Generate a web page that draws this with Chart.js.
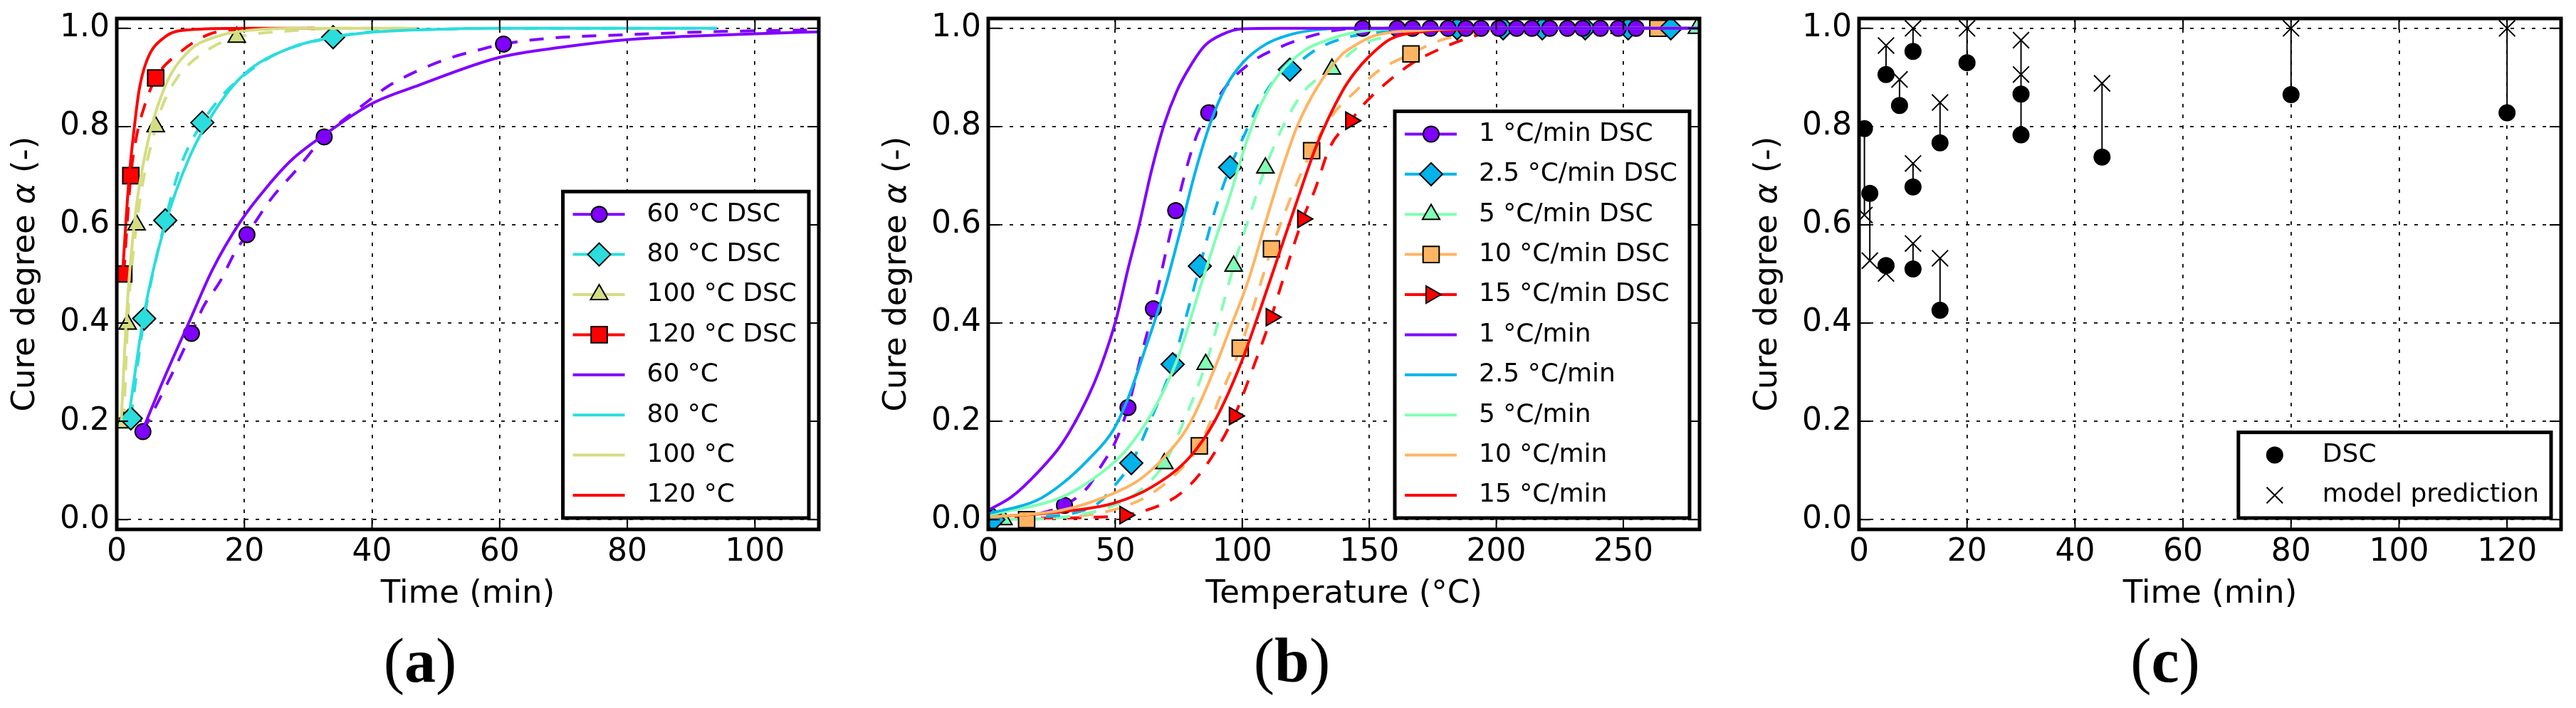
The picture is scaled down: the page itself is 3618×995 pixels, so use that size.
<!DOCTYPE html>
<html>
<head>
<meta charset="utf-8">
<script src="https://cdn.jsdelivr.net/npm/chart.js@4.4.1/dist/chart.umd.min.js"></script>
<style>
  html, body { margin: 0; padding: 0; background: #fff; }
  body { width: 3618px; height: 995px; position: relative; overflow: hidden; }
  canvas { position: absolute; top: 0; }
</style>
</head>
<body>
<canvas id="ca" width="1200" height="995" style="left:0px"></canvas>
<canvas id="cb" width="1220" height="995" style="left:1200px"></canvas>
<canvas id="cc" width="1198" height="995" style="left:2420px"></canvas>
<script>
// ---------------- tick labels / titles ----------------
const yTicks = [0, 0.2, 0.4, 0.6, 0.8, 1.0];
const yTickLabels = ['0.0', '0.2', '0.4', '0.6', '0.8', '1.0'];
const aXTicks = [0, 20, 40, 60, 80, 100];
const aXTickLabels = ['0', '20', '40', '60', '80', '100'];
const bXTicks = [0, 50, 100, 150, 200, 250];
const bXTickLabels = ['0', '50', '100', '150', '200', '250'];
const cXTicks = [0, 20, 40, 60, 80, 100, 120];
const cXTickLabels = ['0', '20', '40', '60', '80', '100', '120'];
const yTitleParts = ['Cure degree ', 'α', ' (-)'];
const xTitleA = 'Time (min)';
const xTitleB = 'Temperature (°C)';
const xTitleC = 'Time (min)';
const captionA = 'a', captionB = 'b', captionC = 'c';
const legendA = ['60 °C DSC', '80 °C DSC', '100 °C DSC', '120 °C DSC', '60 °C', '80 °C', '100 °C', '120 °C'];
const legendB = ['1 °C/min DSC', '2.5 °C/min DSC', '5 °C/min DSC', '10 °C/min DSC', '15 °C/min DSC',
                 '1 °C/min', '2.5 °C/min', '5 °C/min', '10 °C/min', '15 °C/min'];
const legendC = ['DSC', 'model prediction'];

// ---------------- panel (a): isothermal, time (min) ----------------
const aDsc60T = [4.1, 11.7, 20.4, 32.5, 60.6];
const aDsc60A = [0.179, 0.379, 0.58, 0.779, 0.968];
const aDsc80T = [2.2, 4.3, 7.6, 13.4, 33.9];
const aDsc80A = [0.206, 0.409, 0.609, 0.808, 0.982];
const aDsc100T = [1.1, 1.7, 3.1, 6.1, 18.8];
const aDsc100A = [0.197, 0.398, 0.6, 0.8, 0.982];
const aDsc120T = [1.1, 2.2, 6.1];
const aDsc120A = [0.5, 0.7, 0.899];

const aDash60T = [4.1, 7.5, 11.7, 13.6, 16.2, 18.6, 20.4, 24.2, 28.3, 32.5, 39.5, 42.5, 47.4, 52.3, 57, 60.6, 67, 80, 93, 110];
const aDash60A = [0.179, 0.266, 0.379, 0.434, 0.485, 0.546, 0.58, 0.653, 0.714, 0.779, 0.853, 0.882, 0.915, 0.94, 0.957, 0.968, 0.979, 0.987, 0.993, 0.997];
const aDash80T = [2.2, 4.3, 7.6, 10, 13.4, 17, 20, 25, 33.9, 40, 50, 60, 94];
const aDash80A = [0.206, 0.409, 0.609, 0.72, 0.808, 0.87, 0.905, 0.948, 0.982, 0.993, 0.998, 1.0, 1.0];
const aDash100T = [1.1, 1.7, 3.1, 6.1, 7.5, 9.5, 11.4, 15.4, 18.8, 27.4, 35, 47];
const aDash100A = [0.197, 0.398, 0.6, 0.8, 0.853, 0.9, 0.928, 0.965, 0.982, 0.995, 1.0, 1.0];
const aDash120T = [1.1, 2.2, 3.1, 4.3, 6.1, 9.8, 14.5, 20, 31];
const aDash120A = [0.5, 0.7, 0.78, 0.84, 0.899, 0.95, 0.988, 0.998, 1.0];

const aMod60T = [4.3, 7.5, 11.4, 15, 19.4, 23.4, 27.4, 32.5, 40, 47.3, 60, 70, 80, 90, 100, 110];
const aMod60A = [0.19, 0.29, 0.404, 0.509, 0.607, 0.675, 0.732, 0.783, 0.847, 0.884, 0.941, 0.962, 0.977, 0.984, 0.989, 0.993];
const aMod80T = [1.9, 4.3, 7.5, 11.4, 15.4, 20, 27.4, 33.9, 40, 50, 60, 94];
const aMod80A = [0.211, 0.42, 0.597, 0.738, 0.833, 0.907, 0.961, 0.982, 0.992, 0.998, 1.0, 1.0];
const aMod100T = [0.7, 1.5, 2.7, 4.7, 7.5, 11.4, 15.4, 20, 30, 47];
const aMod100A = [0.198, 0.407, 0.597, 0.759, 0.88, 0.955, 0.982, 0.995, 1.0, 1.0];
const aMod120T = [0.9, 1.9, 2.7, 3.5, 4.7, 7.5, 11.4, 20, 31];
const aMod120A = [0.499, 0.691, 0.793, 0.874, 0.934, 0.982, 0.997, 1.0, 1.0];

// ---------------- panel (b): dynamic, temperature (°C) ----------------
const bDsc1T = [30, 55, 65, 73.8, 86.8, 147.4, 161, 167, 174, 181, 188, 194, 201, 208, 214, 221, 228, 234, 241, 248, 255];
const bDsc1A = [0.029, 0.228, 0.429, 0.629, 0.828, 1, 1, 1, 1, 1, 1, 1, 1, 1, 1, 1, 1, 1, 1, 1, 1];
const bDsc25T = [2, 56.3, 72.6, 83.3, 95.2, 118.7, 184.6, 202.7, 218.1, 235, 251.9, 268.7];
const bDsc25A = [0, 0.115, 0.316, 0.516, 0.717, 0.916, 1, 1, 1, 1, 1, 1];
const bDsc5T = [6, 69.3, 85.6, 96.6, 109.1, 135.3, 214.9, 248.6, 279];
const bDsc5A = [0, 0.114, 0.316, 0.516, 0.716, 0.917, 1, 1, 1];
const bDsc10T = [15.1, 83.1, 99.2, 111.5, 127.3, 166.4, 263.6];
const bDsc10A = [0, 0.15, 0.349, 0.551, 0.751, 0.948, 1];
const bDsc15T = [53.8, 96.9, 111.4, 123.8, 142.7, 204.6];
const bDsc15A = [0.009, 0.211, 0.412, 0.612, 0.812, 1];

const bDash1T = [20, 30, 39.2, 44.2, 50.2, 55, 60, 65, 69.3, 73.8, 78, 82.3, 86.8, 94.4, 104.4, 114.5, 127.5, 139.5, 150, 260];
const bDash1A = [0.012, 0.029, 0.066, 0.107, 0.16, 0.228, 0.33, 0.429, 0.53, 0.629, 0.715, 0.785, 0.828, 0.887, 0.934, 0.961, 0.985, 0.998, 1, 1];
const bDash25T = [2, 20, 35, 43.2, 49.2, 56.3, 64.5, 72.6, 78, 83.3, 89, 95.2, 101, 107, 112, 118.7, 129.5, 141.5, 154.5, 170, 270];
const bDash25A = [0, 0.005, 0.015, 0.033, 0.066, 0.115, 0.21, 0.316, 0.415, 0.516, 0.625, 0.717, 0.785, 0.85, 0.89, 0.916, 0.958, 0.982, 0.992, 1, 1];
const bDash5T = [6, 30, 50, 60, 69.3, 77, 85.6, 91, 96.6, 103, 109.1, 116, 124.5, 135.3, 147.5, 160, 175, 190, 280];
const bDash5A = [0, 0.005, 0.03, 0.06, 0.114, 0.2, 0.316, 0.41, 0.516, 0.62, 0.716, 0.8, 0.873, 0.917, 0.968, 0.985, 0.996, 1, 1];
const bDash10T = [15.1, 40, 53.3, 64.3, 75.3, 83.1, 92.3, 99.2, 105.4, 111.5, 119.5, 127.3, 135, 144.6, 154, 166.4, 176.5, 189.5, 210, 280];
const bDash10A = [0, 0.01, 0.026, 0.053, 0.1, 0.15, 0.263, 0.349, 0.45, 0.551, 0.66, 0.751, 0.82, 0.872, 0.915, 0.948, 0.973, 0.99, 1, 1];
const bDash15T = [0, 27, 42.2, 53.8, 69.3, 77.3, 86.3, 96.9, 103.4, 111.4, 115.5, 123.8, 128.5, 134.5, 142.7, 147.4, 156.3, 166.6, 177.4, 189.5, 205, 280];
const bDash15A = [0.003, 0.003, 0.005, 0.009, 0.033, 0.06, 0.114, 0.211, 0.297, 0.412, 0.48, 0.612, 0.67, 0.758, 0.812, 0.843, 0.887, 0.928, 0.957, 0.981, 1, 1];

const bMod1T = [0, 9.1, 19.1, 29.1, 39.2, 44.2, 50.2, 55.2, 59.2, 64.3, 69.3, 74.3, 79.3, 85.3, 92.3, 100, 115, 280];
const bMod1A = [0.019, 0.046, 0.094, 0.155, 0.249, 0.31, 0.405, 0.514, 0.595, 0.711, 0.805, 0.873, 0.921, 0.965, 0.988, 0.999, 1, 1];
const bMod25T = [0, 19.1, 29.1, 39.2, 49.2, 55.2, 61.2, 69.3, 75.3, 81.3, 87.3, 93.4, 100.4, 109.4, 119.4, 129.5, 140, 280];
const bMod25A = [0.012, 0.039, 0.073, 0.121, 0.182, 0.249, 0.338, 0.466, 0.582, 0.704, 0.805, 0.88, 0.931, 0.968, 0.988, 0.997, 1, 1];
const bMod5T = [0, 29.1, 44.2, 54.2, 64.3, 74.3, 84.3, 89.3, 95.4, 101.4, 107.4, 114.5, 124.5, 134.5, 144.6, 154.6, 170, 280];
const bMod5A = [0.009, 0.046, 0.094, 0.141, 0.216, 0.324, 0.487, 0.568, 0.663, 0.765, 0.846, 0.907, 0.955, 0.978, 0.992, 0.998, 1, 1];
const bMod10T = [0, 29, 49.2, 59.2, 69.3, 79.3, 89.3, 95.4, 102.4, 109.4, 115.5, 121.5, 129.5, 139.5, 144.3, 152, 170.8, 190, 280];
const bMod10A = [0.005, 0.019, 0.053, 0.08, 0.127, 0.195, 0.31, 0.392, 0.487, 0.609, 0.711, 0.799, 0.88, 0.948, 0.965, 0.985, 0.996, 1, 1];
const bMod15T = [0, 29, 49.2, 64.3, 79.3, 89.3, 99.4, 107.4, 114.5, 122.5, 129.5, 139.5, 144.3, 149.6, 158.3, 172.3, 186.4, 200, 280];
const bMod15A = [0.005, 0.016, 0.033, 0.066, 0.127, 0.202, 0.317, 0.433, 0.541, 0.663, 0.765, 0.873, 0.91, 0.941, 0.978, 0.994, 0.998, 1, 1];

// ---------------- panel (c): validation, time (min) ----------------
const cT     = [1, 2, 5, 5, 7.5, 10, 10, 10, 15, 15, 20, 30, 30, 45, 80, 120];
const cDsc   = [0.796, 0.664, 0.906, 0.517, 0.843, 0.953, 0.677, 0.51, 0.767, 0.426, 0.93, 0.866, 0.783, 0.738, 0.865, 0.828];
const cModel = [0.62, 0.527, 0.965, 0.501, 0.896, 1.0, 0.725, 0.562, 0.849, 0.532, 1.0, 0.976, 0.906, 0.888, 1.0, 1.0];

// ---------------- styling ----------------
const PURPLE = '#8000ff', CYAN = '#2bdddd', KHAKI = '#d4dd80', RED = '#ff0000';
const BLUE = '#00b4eb', MINT = '#80ffb4', ORANGE = '#ffb462';
const FONT = "'DejaVu Sans', 'Bitstream Vera Sans', sans-serif";
Chart.defaults.font.family = FONT;
Chart.defaults.color = '#000';

function pts(xs, ys) { return xs.map((x, i) => ({ x: x, y: ys[i] })); }
function lineDs(xs, ys, color, dashed, order) {
  return { data: pts(xs, ys), showLine: true, borderColor: color, borderWidth: 4,
           borderDash: dashed ? [20, 17] : [], pointRadius: 0, pointHoverRadius: 0,
           cubicInterpolationMode: 'monotone', fill: false, order: order, clip: 0 };
}
function markerDs(xs, ys, color, style, radius, rotation, order) {
  return { data: pts(xs, ys), showLine: false, pointStyle: style, pointRadius: radius,
           pointHoverRadius: radius, pointRotation: rotation || 0,
           pointBackgroundColor: color, pointBorderColor: '#000', pointBorderWidth: 2,
           order: order, clip: 0 };
}

const decoPlugin = {
  id: 'deco',
  afterDatasetsDraw(chart, args, o) {
    const ctx = chart.ctx, a = chart.chartArea, xs = chart.scales.x, ys = chart.scales.y;
    ctx.save();
    ctx.strokeStyle = '#000';
    ctx.lineWidth = 2;
    ctx.setLineDash([]);
    ctx.beginPath();
    const tl = 16;
    xs.ticks.forEach(t => {
      const px = xs.getPixelForValue(t.value);
      ctx.moveTo(px, a.bottom); ctx.lineTo(px, a.bottom - tl);
      ctx.moveTo(px, a.top); ctx.lineTo(px, a.top + tl);
    });
    ys.ticks.forEach(t => {
      const py = ys.getPixelForValue(t.value);
      ctx.moveTo(a.left, py); ctx.lineTo(a.left + tl, py);
      ctx.moveTo(a.right, py); ctx.lineTo(a.right - tl, py);
    });
    ctx.stroke();
    ctx.lineWidth = 5;
    ctx.strokeRect(a.left, a.top, a.right - a.left, a.bottom - a.top);
    ctx.restore();
  },
  afterDraw(chart, args, o) {
    const ctx = chart.ctx, a = chart.chartArea;
    ctx.save();
    ctx.fillStyle = '#000';
    // y title
    ctx.save();
    ctx.translate(a.left - 128, (a.top + a.bottom) / 2);
    ctx.rotate(-Math.PI / 2);
    const fonts = ['45px ' + FONT, 'italic 45px ' + FONT, '45px ' + FONT];
    let tot = 0;
    const ws = yTitleParts.map((p, i) => { ctx.font = fonts[i]; const w = ctx.measureText(p).width; tot += w; return w; });
    let cx = -tot / 2;
    ctx.textBaseline = 'middle'; ctx.textAlign = 'left';
    yTitleParts.forEach((p, i) => { ctx.font = fonts[i]; ctx.fillText(p, cx, 0); cx += ws[i]; });
    ctx.restore();
    // x title
    ctx.font = '45px ' + FONT;
    ctx.textAlign = 'center'; ctx.textBaseline = 'middle';
    ctx.fillText(o.xTitle, (a.left + a.right) / 2, a.bottom + 91);
    // caption
    const capParts = ['(', o.caption, ')'];
    const capFonts = ["88px 'Liberation Serif', serif", "bold 88px 'Liberation Serif', serif", "88px 'Liberation Serif', serif"];
    let ctot = 0;
    const cws = capParts.map((p, i) => { ctx.font = capFonts[i]; const w = ctx.measureText(p).width; ctot += w; return w; });
    let ccx = (a.left + a.right) / 2 + o.capOffset - ctot / 2;
    ctx.textAlign = 'left'; ctx.textBaseline = 'alphabetic';
    capParts.forEach((p, i) => { ctx.font = capFonts[i]; ctx.fillText(p, ccx, 958); ccx += cws[i]; });
    // legend
    const items = o.legend;
    ctx.font = '36px ' + FONT;
    const tw = Math.max(...items.map(it => ctx.measureText(it.label).width));
    const w = 118 + tw + 17;
    const rowH = 56.4;
    const h = 64 + (items.length - 1) * rowH;
    const right = a.right - 14, bottom = a.bottom - 16;
    const left = right - w, top = bottom - h;
    ctx.fillStyle = '#fff';
    ctx.fillRect(left, top, w, h);
    ctx.strokeStyle = '#000'; ctx.lineWidth = 5;
    ctx.strokeRect(left, top, w, h);
    items.forEach((it, i) => {
      const cy = top + 32 + i * rowH;
      if (it.line) {
        ctx.strokeStyle = it.color; ctx.lineWidth = 4; ctx.setLineDash([]);
        ctx.beginPath(); ctx.moveTo(left + 14, cy); ctx.lineTo(left + 87, cy); ctx.stroke();
      }
      if (it.style) {
        ctx.fillStyle = it.color; ctx.strokeStyle = '#000'; ctx.lineWidth = 2;
        Chart.helpers.drawPoint(ctx, { pointStyle: it.style, radius: it.radius, rotation: it.rotation || 0, borderWidth: 2 }, left + 51, cy);
      }
      ctx.fillStyle = '#000';
      ctx.font = '36px ' + FONT;
      ctx.textAlign = 'left'; ctx.textBaseline = 'middle';
      ctx.fillText(it.label, left + 118, cy);
    });
    ctx.restore();
  }
};

function makeChart(id, cfg) {
  const el = document.getElementById(id);
  return new Chart(el, {
    type: 'scatter',
    data: { datasets: cfg.datasets },
    plugins: [decoPlugin],
    options: {
      responsive: false, animation: false, devicePixelRatio: 1, events: [],
      layout: { padding: { left: 0, right: cfg.rp, top: 26, bottom: 151 } },
      plugins: {
        legend: { display: false }, tooltip: { enabled: false },
        deco: { xTitle: cfg.xTitle, caption: cfg.caption, capOffset: cfg.capOffset, legend: cfg.legend }
      },
      scales: {
        x: {
          type: 'linear', min: 0, max: cfg.xMax,
          afterBuildTicks: s => { s.ticks = cfg.xTicks.map(v => ({ value: v })); },
          afterFit: s => { s.height = 100; s.paddingLeft = 0; s.paddingRight = 0; s.paddingTop = 0; s.paddingBottom = 0; },
          ticks: { autoSkip: false, maxRotation: 0, minRotation: 0, padding: 6, color: '#000',
                   font: { size: 44, family: FONT },
                   callback: (v, i) => cfg.xLabels[i] },
          grid: { color: '#000', lineWidth: 1.8, drawTicks: false },
          border: { display: false, dash: [5, 10] }
        },
        y: {
          type: 'linear', min: -0.02, max: 1.02,
          afterBuildTicks: s => { s.ticks = yTicks.map(v => ({ value: v })); },
          afterFit: s => { s.width = cfg.yw; s.paddingLeft = 0; s.paddingRight = 0; s.paddingTop = 0; s.paddingBottom = 0; },
          ticks: { padding: 10, color: '#000', font: { size: 44, family: FONT },
                   callback: (v, i) => yTickLabels[i] },
          grid: { color: '#000', lineWidth: 1.8, drawTicks: false },
          border: { display: false, dash: [5, 10] }
        }
      }
    }
  });
}

// ---- chart (a)
makeChart('ca', {
  yw: 164, rp: 50, xMax: 110, xTicks: aXTicks, xLabels: aXTickLabels, xTitle: xTitleA,
  caption: captionA, capOffset: -67,
  datasets: [
    lineDs(aMod60T, aMod60A, PURPLE, false, 1),
    lineDs(aMod80T, aMod80A, CYAN, false, 1),
    lineDs(aMod100T, aMod100A, KHAKI, false, 1),
    lineDs(aMod120T, aMod120A, RED, false, 1),
    markerDs(aDsc60T, aDsc60A, PURPLE, 'circle', 11, 0, 5),
    markerDs(aDsc80T, aDsc80A, CYAN, 'rectRot', 16, 0, 5),
    markerDs(aDsc100T, aDsc100A, KHAKI, 'triangle', 14, 0, 5),
    markerDs(aDsc120T, aDsc120A, RED, 'rect', 16, 0, 5),
    lineDs(aDash60T, aDash60A, PURPLE, true, 10),
    lineDs(aDash80T, aDash80A, CYAN, true, 10),
    lineDs(aDash100T, aDash100A, KHAKI, true, 10),
    lineDs(aDash120T, aDash120A, RED, true, 10)
  ],
  legend: [
    { label: legendA[0], color: PURPLE, line: true, style: 'circle', radius: 11 },
    { label: legendA[1], color: CYAN, line: true, style: 'rectRot', radius: 16 },
    { label: legendA[2], color: KHAKI, line: true, style: 'triangle', radius: 14 },
    { label: legendA[3], color: RED, line: true, style: 'rect', radius: 16 },
    { label: legendA[4], color: PURPLE, line: true },
    { label: legendA[5], color: CYAN, line: true },
    { label: legendA[6], color: KHAKI, line: true },
    { label: legendA[7], color: RED, line: true }
  ]
});

// ---- chart (b)
makeChart('cb', {
  yw: 188, rp: 33, xMax: 280, xTicks: bXTicks, xLabels: bXTickLabels, xTitle: xTitleB,
  caption: captionB, capOffset: -73,
  datasets: [
    lineDs(bMod1T, bMod1A, PURPLE, false, 1),
    lineDs(bMod25T, bMod25A, BLUE, false, 1),
    lineDs(bMod5T, bMod5A, MINT, false, 1),
    lineDs(bMod10T, bMod10A, ORANGE, false, 1),
    lineDs(bMod15T, bMod15A, RED, false, 1),
    markerDs(bDsc1T, bDsc1A, PURPLE, 'circle', 11, 0, 5),
    markerDs(bDsc25T, bDsc25A, BLUE, 'rectRot', 16, 0, 5),
    markerDs(bDsc5T, bDsc5A, MINT, 'triangle', 14, 0, 5),
    markerDs(bDsc10T, bDsc10A, ORANGE, 'rect', 16, 0, 5),
    markerDs(bDsc15T, bDsc15A, RED, 'triangle', 14, 90, 5),
    lineDs(bDash1T, bDash1A, PURPLE, true, 10),
    lineDs(bDash25T, bDash25A, BLUE, true, 10),
    lineDs(bDash5T, bDash5A, MINT, true, 10),
    lineDs(bDash10T, bDash10A, ORANGE, true, 10),
    lineDs(bDash15T, bDash15A, RED, true, 10)
  ],
  legend: [
    { label: legendB[0], color: PURPLE, line: true, style: 'circle', radius: 11 },
    { label: legendB[1], color: BLUE, line: true, style: 'rectRot', radius: 16 },
    { label: legendB[2], color: MINT, line: true, style: 'triangle', radius: 14 },
    { label: legendB[3], color: ORANGE, line: true, style: 'rect', radius: 16 },
    { label: legendB[4], color: RED, line: true, style: 'triangle', radius: 14, rotation: 90 },
    { label: legendB[5], color: PURPLE, line: true },
    { label: legendB[6], color: BLUE, line: true },
    { label: legendB[7], color: MINT, line: true },
    { label: legendB[8], color: ORANGE, line: true },
    { label: legendB[9], color: RED, line: true }
  ]
});

// ---- chart (c)
const cSegs = [];
cT.forEach((t, i) => { cSegs.push({ x: t, y: cDsc[i] }, { x: t, y: cModel[i] }, { x: t, y: null }); });
makeChart('cc', {
  yw: 191, rp: 21, xMax: 130, xTicks: cXTicks, xLabels: cXTickLabels, xTitle: xTitleC,
  caption: captionC, capOffset: -63,
  datasets: [
    { data: pts(cT, cModel), showLine: false, pointStyle: 'crossRot', pointRadius: 16, pointHoverRadius: 16,
      pointBackgroundColor: '#000', pointBorderColor: '#000', pointBorderWidth: 2, order: 1, clip: 0 },
    { data: pts(cT, cDsc), showLine: false, pointStyle: 'circle', pointRadius: 11, pointHoverRadius: 11,
      pointBackgroundColor: '#000', pointBorderColor: '#000', pointBorderWidth: 2, order: 2, clip: 0 },
    { data: cSegs, showLine: true, spanGaps: false, borderColor: '#000', borderWidth: 2, pointRadius: 0,
      pointHoverRadius: 0, fill: false, order: 3, clip: 0 }
  ],
  legend: [
    { label: legendC[0], color: '#000', line: false, style: 'circle', radius: 11 },
    { label: legendC[1], color: '#000', line: false, style: 'crossRot', radius: 16 }
  ]
});
</script>
</body>
</html>
